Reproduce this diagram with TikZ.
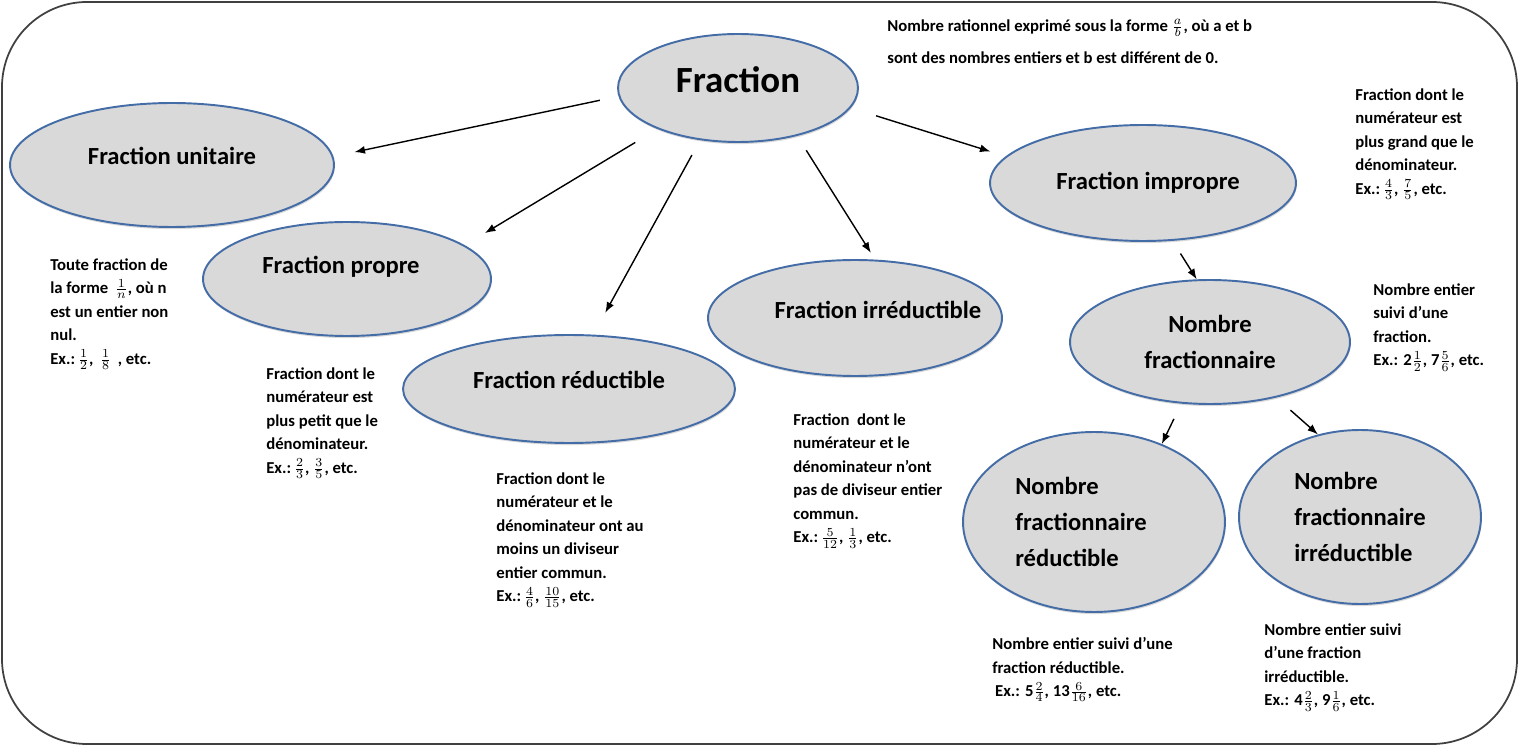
\documentclass[tikz,border=0pt]{standalone}
\usepackage{fontspec}
\setmainfont{Carlito}
\usetikzlibrary{arrows.meta,shapes.geometric,shadows}
\definecolor{bubblefill}{RGB}{217,217,217}
\definecolor{bubbleline}{RGB}{68,108,166}

\tikzset{
  bubble/.style={ellipse, draw=bubbleline, line width=1.1pt, fill=bubblefill, inner sep=0pt,
    drop shadow={opacity=0.3, shadow xshift=0.4pt, shadow yshift=-1.2pt}},
  lbl/.style={font=\fontsize{14}{20.5}\selectfont\bfseries, align=left, inner sep=0pt},
  note/.style={font=\fontsize{9.5}{13.4}\selectfont\bfseries, align=left, anchor=north west, inner sep=0pt},
  link/.style={->, line width=0.8pt},
}

\begin{document}
\begin{tikzpicture}[x=0.02cm, y=-0.02cm, >={Latex[length=6pt,width=4.5pt]}]
  \useasboundingbox (0,0) rectangle (1519,746);
  \draw[line width=1pt, black!75, rounded corners=1.7cm] (2,2) rectangle (1517,744);

  % bubbles
  \node[bubble, minimum width=4.8cm, minimum height=2.16cm,
    label={[lbl, font=\fontsize{21}{25}\selectfont\bfseries, yshift=0.16cm]center:Fraction}] (frac) at (738,88) {};
  \node[bubble, minimum width=6.48cm, minimum height=2.48cm,
    label={[lbl, yshift=0.18cm]center:Fraction unitaire}] (unit) at (172,165) {};
  \node[bubble, minimum width=5.76cm, minimum height=2.28cm,
    label={[lbl, xshift=-0.12cm, yshift=0.24cm]center:Fraction propre}] (prop) at (347,279) {};
  \node[bubble, minimum width=6.64cm, minimum height=2.16cm,
    label={[lbl, yshift=0.18cm]center:Fraction réductible}] (reduc) at (569,389) {};
  \node[bubble, minimum width=5.88cm, minimum height=2.32cm,
    label={[lbl, xshift=0.46cm, yshift=0.16cm]center:Fraction irréductible}] (irred) at (855,318) {};
  \node[bubble, minimum width=6.12cm, minimum height=2.32cm,
    label={[lbl, xshift=0.1cm]center:Fraction impropre}] (impr) at (1143,183) {};
  \node[bubble, minimum width=5.6cm, minimum height=2.48cm,
    label={[lbl, align=center]center:Nombre\\fractionnaire}] (nfrac) at (1210,342) {};
  \node[bubble, minimum width=5.24cm, minimum height=3.6cm,
    label={[lbl, xshift=-0.26cm]center:Nombre\\fractionnaire\\réductible}] (nfred) at (1094,522) {};
  \node[bubble, minimum width=4.84cm, minimum height=3.48cm,
    label={[lbl]center:Nombre\\fractionnaire\\irréductible}] (nfirr) at (1360,517) {};

  % definitions
  \node[note, font=\fontsize{9.5}{18.2}\selectfont\bfseries] (deffrac) at (887,19)
    {Nombre rationnel exprimé sous la forme $\frac{a}{b}$, où a et b\\sont des nombres entiers et b est différent de 0.};
  \node[note] (defunit) at (50,258)
    {Toute fraction de\\la forme \,$\frac{1}{n}$, où n\\est un entier non\\nul.\\Ex.:\,$\frac{1}{2}$, \,$\frac{1}{8}$ \,, etc.};
  \node[note] (defprop) at (266,367)
    {Fraction dont le\\numérateur est\\plus petit que le\\dénominateur.\\Ex.:\,$\frac{2}{3}$, $\frac{3}{5}$, etc.};
  \node[note] (defreduc) at (496,472)
    {Fraction dont le\\numérateur et le\\dénominateur ont au\\moins un diviseur\\entier commun.\\Ex.:\,$\frac{4}{6}$, $\frac{10}{15}$, etc.};
  \node[note] (defirred) at (793,413)
    {Fraction \ dont le\\numérateur et le\\dénominateur n’ont\\pas de diviseur entier\\commun.\\Ex.:\,$\frac{5}{12}$, $\frac{1}{3}$, etc.};
  \node[note] (defimpr) at (1355,88)
    {Fraction dont le\\numérateur est\\plus grand que le\\dénominateur.\\Ex.:\,$\frac{4}{3}$, $\frac{7}{5}$, etc.};
  \node[note] (defnfrac) at (1373,283)
    {Nombre entier\\suivi d’une\\fraction.\\Ex.: 2$\frac{1}{2}$, 7$\frac{5}{6}$, etc.};
  \node[note] (defnfred) at (992,637)
    {Nombre entier suivi d’une\\fraction réductible.\\\,Ex.: 5$\frac{2}{4}$, 13$\frac{6}{16}$, etc.};
  \node[note] (defnfirr) at (1264,623)
    {Nombre entier suivi\\d’une fraction\\irréductible.\\Ex.: 4$\frac{2}{3}$, 9$\frac{1}{6}$, etc.};

  % arrows
  \foreach \a/\b/\s/\t in {frac.184/unit.3/0.38/0.43, frac.207/prop.16/0.52/0.47,
      frac.234/reduc.66/0.34/0.5, frac.321/irred.71/0.34/0.16, frac.350/impr.169/0.53/0.32,
      impr.297/nfrac.102/0.3/0, nfrac.245/nfred.49/0.34/0, nfrac.320/nfirr.117/0.38/0}
    \draw[link, shorten <=\s cm, shorten >=\t cm] (\a) -- (\b);
\end{tikzpicture}
\end{document}
